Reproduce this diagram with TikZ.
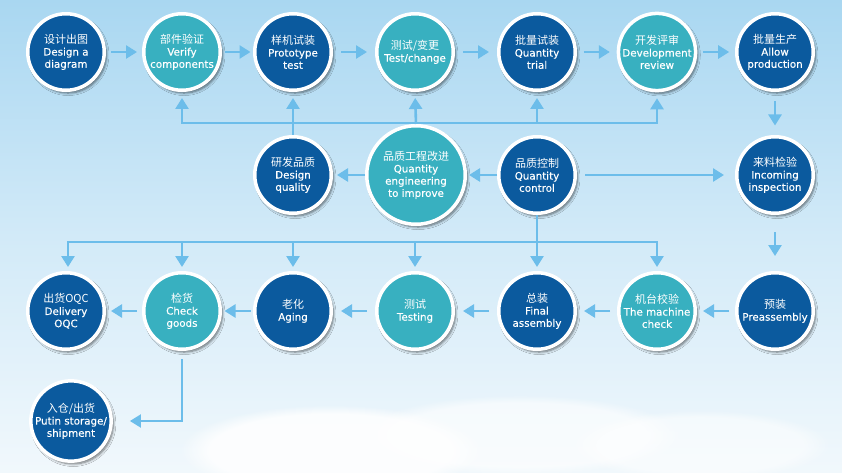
\documentclass[tikz,border=0pt]{standalone}
\usepackage{fontspec}
\setmainfont{DejaVu Sans}[FakeBold=0.35]
\newfontfamily\cjk{Noto Sans CJK SC}
\usetikzlibrary{arrows.meta,shadows,shadows.blur,fadings,calc}
\definecolor{dblue}{HTML}{0B5A9E}
\definecolor{tealc}{HTML}{38B0C0}
\definecolor{arrowc}{HTML}{6CBDEA}
\definecolor{bgtop}{HTML}{A9D7F1}
\definecolor{bgmid}{HTML}{D2EAF8}
\definecolor{bgbot}{HTML}{F1F8FC}
\begin{document}
\begin{tikzpicture}[x=1pt,y=-1pt,
  circ/.style={circle, draw=white, line width=3.5pt, minimum size=76.5pt, inner sep=0pt,
    align=center, text=white, font=\fontsize{10.3}{12.2}\selectfont,
    blur shadow={shadow xshift=2.2pt, shadow yshift=-2.8pt, shadow blur radius=2.5pt,
      shadow blur steps=6, shadow opacity=55}},
  big/.style={minimum size=98.5pt},
  dk/.style={circ, fill=dblue},
  tl/.style={circ, fill=tealc},
  cj/.style={},
  conn/.style={draw=arrowc, line width=2.6pt},
  thin/.style={draw=arrowc, line width=2pt},
  tip/.style={-{Triangle[length=11pt,width=13pt]}},
  arr/.style={conn, tip},
]
\newcommand{\zh}[1]{{\cjk\fontsize{11}{12.2}\selectfont #1}}
\useasboundingbox (0,0) rectangle (842,473);
% background
\shade[top color=bgtop, bottom color=bgbot, middle color=bgmid] (0,0) rectangle (842,473);
% clouds
\fill[white, opacity=0.85, path fading=circle with fuzzy edge 20 percent] (330,450) ellipse (150 and 45);
\fill[white, opacity=0.6, path fading=circle with fuzzy edge 20 percent] (520,435) ellipse (160 and 40);
\fill[white, opacity=0.5, path fading=circle with fuzzy edge 20 percent] (700,445) ellipse (130 and 35);

% row 1
\node[dk] (A1) at (66,52)  {\zh{设计出图}\\Design a\\diagram};
\node[tl] (A2) at (182,52) {\zh{部件验证}\\Verify\\components};
\node[dk] (A3) at (293,52) {\zh{样机试装}\\Prototype\\test};
\node[tl] (A4) at (415,52) {\zh{测试/变更}\\Test/change};
\node[dk] (A5) at (537,52) {\zh{批量试装}\\Quantity\\trial};
\node[tl] (A6) at (657,52) {\zh{开发评审}\\Development\\review};
\node[dk] (A7) at (775,52) {\zh{批量生产}\\Allow\\production};
% row 2
\node[dk] (B1) at (293,175) {\zh{研发品质}\\Design\\quality};
\node[tl,big] (B2) at (416,175) {\zh{品质工程改进}\\Quantity\\engineering\\to improve};
\node[dk] (B3) at (537,175) {\zh{品质控制}\\Quantity\\control};
\node[dk] (B4) at (775,175) {\zh{来料检验}\\Incoming\\inspection};
% row 3
\node[dk] (C1) at (66,311)  {\zh{出货OQC}\\Delivery\\OQC};
\node[tl] (C2) at (182,311) {\zh{检货}\\Check\\goods};
\node[dk] (C3) at (293,311) {\zh{老化}\\Aging};
\node[tl] (C4) at (415,311) {\zh{测试}\\Testing};
\node[dk] (C5) at (537,311) {\zh{总装}\\Final\\assembly};
\node[tl] (C6) at (657,311) {\zh{机台校验}\\The machine\\check};
\node[dk] (C7) at (775,311) {\zh{预装}\\Preassembly};
% row 4
\node[dk] (D1) at (71,421) {\zh{入仓/出货}\\Putin storage/\\shipment};

% row 1 arrows
\foreach \a/\b in {A1/A2,A2/A3,A3/A4,A4/A5,A5/A6,A6/A7}
  \draw[arr] ($(\a.east)!0.5!(\b.west)+(-13,0)$) -- +(26,0);
% vertical right side
\draw[arr] ($(A7.south)!0.5!(B4.north)+(0,-12)$) -- +(0,24);
\draw[arr] ($(B4.south)!0.5!(C7.north)+(0,-11)$) -- +(0,24);
% row 2 arrows
\draw[arr, shorten >=2pt] (B3.west) -- (B2.east);
\draw[arr, shorten >=4pt] (B2.west) -- (B1.east);
\draw[arr, shorten <=8pt, shorten >=11pt] (B3.east) -- (B4.west);
% top bus
\coordinate (tb) at (0,123);
\draw[conn, line cap=rect] (A2 |- tb) -- (A6 |- tb);
\draw[arr, shorten >=6pt] (A2 |- tb) -- (A2.south);
\draw[arr, shorten >=6pt] (B1.north) -- (A3.south);
\draw[arr, shorten >=6pt] (B2.north) -- (A4.south);
\draw[arr, shorten >=6pt] (A5 |- tb) -- (A5.south);
\draw[arr, shorten >=6pt] (A6 |- tb) -- (A6.south);
% bottom bus
\coordinate (bb) at (0,242);
\draw[conn, line cap=rect] ($(C1 |- bb)+(2,0)$) -- (C6 |- bb);
\draw[conn] (B3.south) -- (B3 |- bb);
\draw[arr, shorten >=4pt] ($(C1 |- bb)+(2,0)$) -- ($(C1.north)+(2,0)$);
\foreach \c in {C2,C3,C4,C5,C6}
  \draw[arr, shorten >=4pt] (\c |- bb) -- (\c.north);
% row 3 arrows
\foreach \a/\b in {C7/C6,C6/C5,C5/C4,C4/C3,C3/C2,C2/C1}
  \draw[arr] ($(\a.west)!0.5!(\b.east)+(13,0)$) -- +(-26,0);
% to storage
\draw[thin, tip, shorten >=17pt] ($(C2.south)+(0,8)$) |- (D1.east);
\end{tikzpicture}
\end{document}
